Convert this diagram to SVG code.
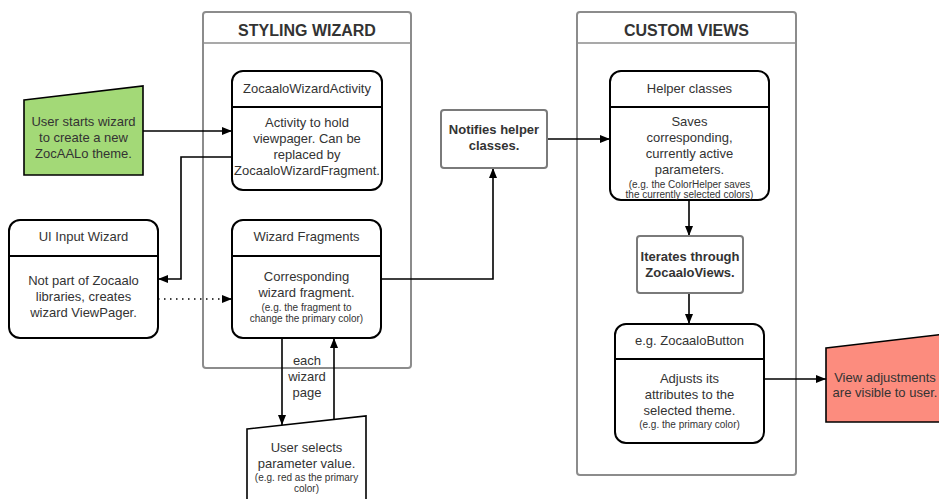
<svg xmlns="http://www.w3.org/2000/svg" width="939" height="499" viewBox="0 0 939 499">
<defs>
<marker id="arr" viewBox="0 0 10 8" refX="10" refY="4" markerWidth="10" markerHeight="8" orient="auto" markerUnits="userSpaceOnUse"><path d="M0,0 L10,4 L0,8 z" fill="#000"/></marker>
<style>
text{font-family:"Liberation Sans",Arial,sans-serif;fill:#333;text-anchor:middle}
.t{font-size:13px}
.s{font-size:10px}
.h{font-size:16px;font-weight:bold}
.b{font-size:13px;font-weight:bold}
.cont{fill:#fff;stroke:#8c8c8c;stroke-width:2}
.node{fill:#fff;stroke:#000;stroke-width:2}
.gnode{fill:#fff;stroke:#7a7a7a;stroke-width:2}
.sep{stroke:#000;stroke-width:2}
.csep{stroke:#8c8c8c;stroke-width:1.5}
.c{fill:none;stroke:#000;stroke-width:1.6}
</style>
</defs>
<rect width="939" height="499" fill="#fff"/>

<g id="styling-wizard">
<rect class="cont" x="203" y="12" width="208" height="356" rx="3"/>
<line class="csep" x1="203" y1="43" x2="411" y2="43"/>
<text class="h" x="307" y="36">STYLING WIZARD</text>
</g>

<g id="custom-views">
<rect class="cont" x="577" y="12" width="219" height="463" rx="3"/>
<line class="csep" x1="577" y1="43" x2="796" y2="43"/>
<text class="h" x="686.5" y="36">CUSTOM VIEWS</text>
</g>

<g id="connectors">
<path class="c" d="M143,131 H232" marker-end="url(#arr)"/>
<path class="c" d="M232,157 H181 V279 H158" marker-end="url(#arr)"/>
<path class="c" d="M158,299 H232" stroke-dasharray="1.5 4.5" marker-end="url(#arr)"/>
<path class="c" d="M381,279 H493 V168" marker-end="url(#arr)"/>
<path class="c" d="M547,139 H610" marker-end="url(#arr)"/>
<path class="c" d="M689,200 V236" marker-end="url(#arr)"/>
<path class="c" d="M689,293 V324" marker-end="url(#arr)"/>
<path class="c" d="M764,379 H826" marker-end="url(#arr)"/>
<path class="c" d="M282,338 V425" marker-end="url(#arr)"/>
<path class="c" d="M334,419 V338" marker-end="url(#arr)"/>
<text class="t" x="307" y="365">each</text>
<text class="t" x="307" y="381">wizard</text>
<text class="t" x="307" y="397">page</text>
</g>

<g id="user-starts">
<polygon points="24,100 143,86 143,175 24,175" fill="#a3d977" stroke="#000" stroke-width="1.6"/>
<text class="t" x="83.5" y="125.5">User starts wizard</text>
<text class="t" x="83.5" y="141.5">to create a new</text>
<text class="t" x="83.5" y="157.5">ZocAALo theme.</text>
</g>

<g id="activity">
<rect class="node" x="232" y="71" width="150" height="119" rx="11"/>
<line class="sep" x1="232" y1="107" x2="382" y2="107"/>
<text class="t" x="307" y="92.5">ZocaaloWizardActivity</text>
<text class="t" x="307" y="127">Activity to hold</text>
<text class="t" x="307" y="143">viewpager. Can be</text>
<text class="t" x="307" y="159">replaced by</text>
<text class="t" x="307" y="175">ZocaaloWizardFragment.</text>
</g>

<g id="ui-input">
<rect class="node" x="9" y="220" width="149" height="118" rx="11"/>
<line class="sep" x1="9" y1="256" x2="158" y2="256"/>
<text class="t" x="83.5" y="240.5">UI Input Wizard</text>
<text class="t" x="83.5" y="284.5">Not part of Zocaalo</text>
<text class="t" x="83.5" y="300.5">libraries, creates</text>
<text class="t" x="83.5" y="316.5">wizard ViewPager.</text>
</g>

<g id="fragments">
<rect class="node" x="232" y="220" width="149" height="118" rx="11"/>
<line class="sep" x1="232" y1="256" x2="381" y2="256"/>
<text class="t" x="306.5" y="240.5">Wizard Fragments</text>
<text class="t" x="306.5" y="280.5">Corresponding</text>
<text class="t" x="306.5" y="296.5">wizard fragment.</text>
<text class="s" x="306.5" y="310.5">(e.g. the fragment to</text>
<text class="s" x="306.5" y="321.5">change the primary color)</text>
</g>

<g id="user-selects">
<polygon points="247,429 366,416 366,505 247,505" fill="#fff" stroke="#000" stroke-width="1.6"/>
<text class="t" x="306.5" y="451.5">User selects</text>
<text class="t" x="306.5" y="467.5">parameter value.</text>
<text class="s" x="306.5" y="480.5">(e.g. red as the primary</text>
<text class="s" x="306.5" y="491.5">color)</text>
</g>

<g id="notifies">
<rect class="gnode" x="441" y="110" width="106" height="58" rx="3"/>
<text class="b" x="494" y="133.5">Notifies helper</text>
<text class="b" x="494" y="149.5">classes.</text>
</g>

<g id="helper">
<rect class="node" x="610" y="71" width="159" height="129" rx="11"/>
<line class="sep" x1="610" y1="107" x2="769" y2="107"/>
<text class="t" x="689.5" y="92.5">Helper classes</text>
<text class="t" x="689.5" y="126">Saves</text>
<text class="t" x="689.5" y="142">corresponding,</text>
<text class="t" x="689.5" y="158">currently active</text>
<text class="t" x="689.5" y="174">parameters.</text>
<text class="s" x="689.5" y="188">(e.g. the ColorHelper saves</text>
<text class="s" x="689.5" y="198">the currently selected colors)</text>
</g>

<g id="iterates">
<rect class="gnode" x="637" y="236" width="106" height="57" rx="3"/>
<text class="b" x="690" y="260.5">Iterates through</text>
<text class="b" x="690" y="276.5">ZocaaloViews.</text>
</g>

<g id="zocaalo-button">
<rect class="node" x="615" y="324" width="149" height="119" rx="11"/>
<line class="sep" x1="615" y1="359" x2="764" y2="359"/>
<text class="t" x="689.5" y="344.5">e.g. ZocaaloButton</text>
<text class="t" x="689.5" y="382.5">Adjusts its</text>
<text class="t" x="689.5" y="398.5">attributes to the</text>
<text class="t" x="689.5" y="414.5">selected theme.</text>
<text class="s" x="689.5" y="427.5">(e.g. the primary color)</text>
</g>

<g id="view-adjustments">
<polygon points="826,348 945,334 945,422 826,422" fill="#fc8c7e" stroke="#000" stroke-width="1.6"/>
<text class="t" x="885" y="381.5">View adjustments</text>
<text class="t" x="885" y="396.5">are visible to user.</text>
</g>
</svg>
